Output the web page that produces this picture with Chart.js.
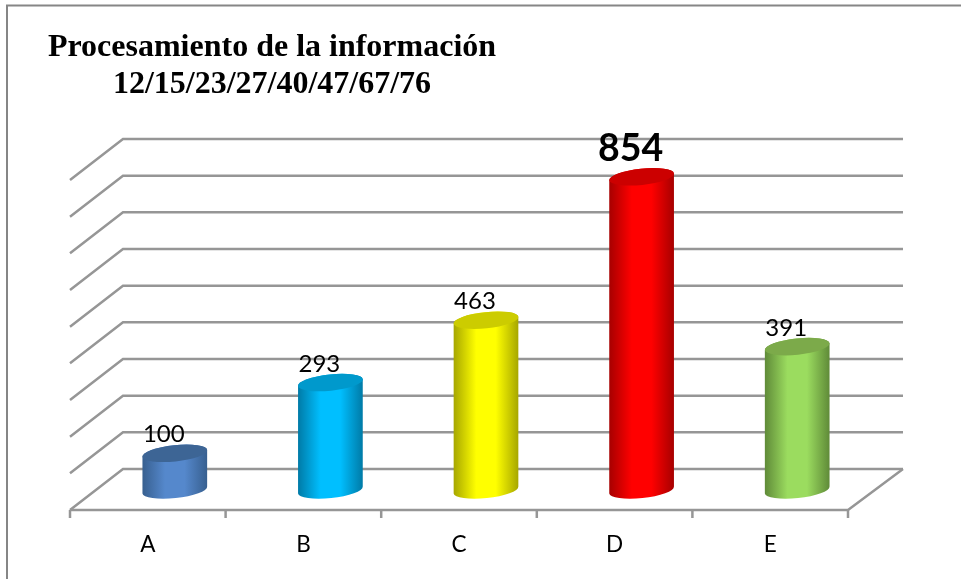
<!DOCTYPE html>
<html>
<head>
<meta charset="utf-8">
<style>html,body{margin:0;padding:0;background:#fff}canvas{display:block}</style>
<script src="https://cdn.jsdelivr.net/npm/chart.js@4"></script>
</head>
<body>
<canvas id="c" width="961" height="579"></canvas>
<script>
const categories = ['A', 'B', 'C', 'D', 'E'];
const values = [100, 293, 463, 854, 391];
const titleLines = ['Procesamiento de la información', '12/15/23/27/40/47/67/76'];
const baseColors = ['#5588cc', '#00bfff', '#ffff00', '#ff0000', '#9bdc5f'];
const edgeColors = ['#375f8f', '#007aa6', '#a6a600', '#a60000', '#5f8a38'];
const capColors = ['#3d6595', '#0099cc', '#cccc00', '#cc0000', '#7caa4a'];
const highlighted = [false, false, false, true, false];

const gridColor = '#969696';
const depthX = 27, depthFront = 20, depthBack = 21;
const tilt = -6 * Math.PI / 180, capRatio = 0.25;

const bodyGradient = (ctx, x, r, i) => {
  const g = ctx.createLinearGradient(x - r, 0, x + r, 0);
  g.addColorStop(0, edgeColors[i]);
  g.addColorStop(0.35, baseColors[i]);
  g.addColorStop(0.65, baseColors[i]);
  g.addColorStop(1, edgeColors[i]);
  return g;
};

const scene = {
  id: 'scene',
  afterLayout(chart) {
    chart.titleBlock.left = 0;
    chart.titleBlock.right = 544;
  },
  beforeDatasetsDraw(chart) {
    const { ctx, chartArea: a, scales: { y } } = chart;
    ctx.save();
    ctx.strokeStyle = '#868686';
    ctx.lineWidth = 2;
    ctx.beginPath();
    ctx.moveTo(7, 579); ctx.lineTo(7, 5.5); ctx.lineTo(961, 5.5);
    ctx.stroke();
    ctx.strokeStyle = gridColor;
    ctx.lineWidth = 2.5;
    y.ticks.forEach(t => {
      const p = y.getPixelForValue(t.value);
      ctx.beginPath();
      ctx.moveTo(a.left - depthX, p + depthFront);
      ctx.lineTo(a.left + depthX - 1, p - depthBack);
      ctx.lineTo(a.right + depthX + 1, p - depthBack);
      ctx.stroke();
    });
    const z = y.getPixelForValue(0);
    ctx.beginPath();
    ctx.moveTo(a.left - depthX, z + depthFront);
    ctx.lineTo(a.right - depthX, z + depthFront);
    ctx.lineTo(a.right + depthX + 1, z - depthBack);
    ctx.stroke();
    const step = (a.right - a.left) / categories.length;
    for (let i = 0; i <= categories.length; i++) {
      const tx = a.left - depthX + i * step;
      ctx.beginPath();
      ctx.moveTo(tx, z + depthFront);
      ctx.lineTo(tx, z + depthFront + 8);
      ctx.stroke();
    }
    ctx.restore();
  },
  beforeDatasetDraw(chart, args) {
    const { ctx } = chart;
    chart.getDatasetMeta(args.index).data.forEach((bar, i) => {
      const r = bar.width / 2, ry = r * capRatio;
      ctx.save();
      ctx.fillStyle = bodyGradient(ctx, bar.x, r, i);
      ctx.beginPath();
      ctx.ellipse(bar.x, bar.base, r, ry, tilt, 0, Math.PI);
      ctx.ellipse(bar.x, bar.y, r, ry, tilt, Math.PI, 2 * Math.PI);
      ctx.closePath();
      ctx.fill();
      ctx.fillStyle = capColors[i];
      ctx.beginPath();
      ctx.ellipse(bar.x, bar.y, r, ry, tilt, 0, 2 * Math.PI);
      ctx.fill();
      ctx.restore();
    });
    return false;
  },
  afterDatasetsDraw(chart) {
    const { ctx } = chart;
    chart.getDatasetMeta(0).data.forEach((bar, i) => {
      const big = highlighted[i];
      ctx.save();
      ctx.fillStyle = '#000';
      ctx.textAlign = 'center';
      ctx.textBaseline = 'alphabetic';
      ctx.font = big ? 'bold 37.5px Lato' : '24px Lato';
      ctx.fillText(String(values[i]), bar.x - 11, bar.y + (big ? -16 : -11));
      ctx.restore();
    });
  }
};

new Chart(document.getElementById('c'), {
  type: 'bar',
  data: {
    labels: categories,
    datasets: [{
      data: values,
      backgroundColor: baseColors,
      barPercentage: 0.418,
      categoryPercentage: 1
    }]
  },
  options: {
    responsive: false,
    animation: false,
    devicePixelRatio: 1,
    layout: { padding: { left: 97, right: 86, top: 0, bottom: 9 } },
    plugins: {
      legend: { display: false },
      tooltip: { enabled: false },
      title: {
        display: true,
        text: titleLines,
        color: '#000',
        align: 'center',
        font: { family: '"Liberation Serif"', size: 32, weight: 'bold', lineHeight: 1.156 },
        padding: { top: 29, bottom: 57 }
      }
    },
    scales: {
      x: {
        offset: true,
        grid: { display: false, drawTicks: false },
        border: { display: false },
        afterFit(s) { s.height = 80; },
        ticks: {
          color: '#000',
          font: { family: 'Lato', size: 22.5 },
          padding: 41,
          labelOffset: -27,
          maxRotation: 0,
          autoSkip: false
        }
      },
      y: {
        display: false,
        min: 0,
        max: 900,
        ticks: { stepSize: 100 }
      }
    }
  },
  plugins: [scene]
});
</script>
</body>
</html>
